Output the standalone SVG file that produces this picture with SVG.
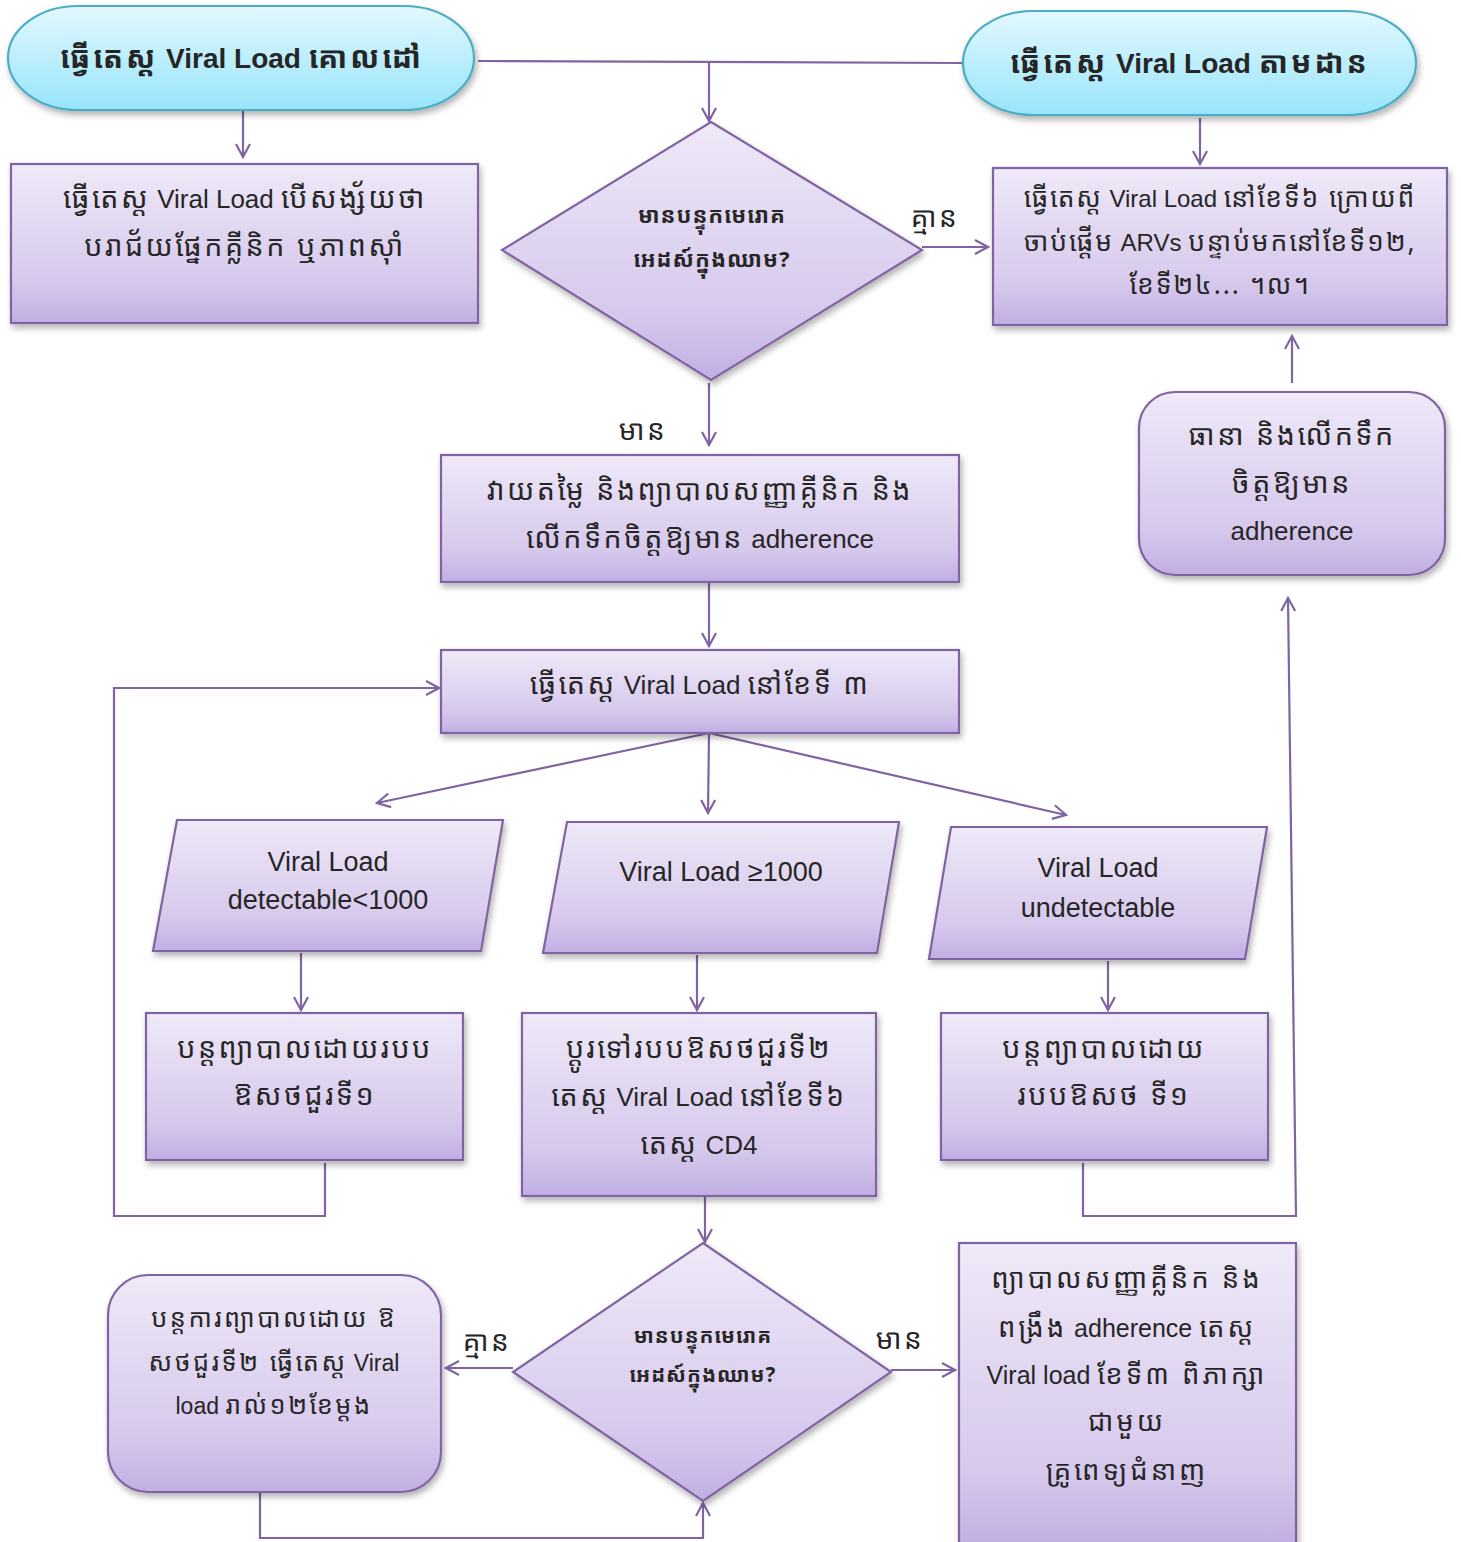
<svg xmlns="http://www.w3.org/2000/svg" width="1461" height="1542" viewBox="0 0 1461 1542">
<defs>
<linearGradient id="gp" x1="0" y1="0" x2="0" y2="1">
<stop offset="0" stop-color="#efe9f8"/>
<stop offset="0.75" stop-color="#d6c8ec"/>
<stop offset="1" stop-color="#c2aee3"/>
</linearGradient>
<linearGradient id="gc" x1="0" y1="0" x2="0" y2="1">
<stop offset="0" stop-color="#e3f8fe"/>
<stop offset="1" stop-color="#98e5fb"/>
</linearGradient>
<filter id="sh" x="-10%" y="-10%" width="125%" height="130%">
<feDropShadow dx="2" dy="4" stdDeviation="3" flood-color="#000" flood-opacity="0.3"/>
</filter>
<marker id="ar" viewBox="0 0 16 16" refX="14" refY="8" markerWidth="16" markerHeight="16" markerUnits="userSpaceOnUse" orient="auto">
<path d="M1,1 L14,8 L1,15" fill="none" stroke="#8064a2" stroke-width="2.2"/>
</marker>
</defs>
<style>
.p{fill:url(#gp);stroke:#8064a2;stroke-width:2.2;filter:url(#sh)}
.c{fill:url(#gc);stroke:#4bacc6;stroke-width:2.2;filter:url(#sh)}
.l{fill:none;stroke:#8064a2;stroke-width:2.2}
.a{marker-end:url(#ar)}
text{font-family:"Noto Sans Khmer","Khmer OS","Liberation Sans",sans-serif;fill:#262626;text-anchor:middle;letter-spacing:2.5px}
.b{font-weight:bold}
.v{font-family:"Liberation Sans",Arial,sans-serif;letter-spacing:0}
.s{letter-spacing:1px}
</style>

<g id="connectors">
<path class="l" d="M478,61 L963,63"/>
<path class="l a" d="M709,61 L709,121"/>
<path class="l a" d="M243,110 L243,157"/>
<path class="l a" d="M1200,118 L1200,164"/>
<path class="l a" d="M922,247 L988,247"/>
<path class="l a" d="M709,383 L709,445"/>
<path class="l a" d="M709,582 L709,646"/>
<path class="l a" d="M709,733 L377,803"/>
<path class="l a" d="M709,733 L708,813"/>
<path class="l a" d="M709,733 L1066,815"/>
<path class="l a" d="M301,953 L301,1010"/>
<path class="l a" d="M697,955 L697,1010"/>
<path class="l a" d="M1108,961 L1108,1010"/>
<path class="l a" d="M325,1163 L325,1216 L114,1216 L114,688 L439,688"/>
<path class="l a" d="M1083,1163 L1083,1216 L1296,1216 L1288,598"/>
<path class="l a" d="M1292,383 L1292,336"/>
<path class="l a" d="M705,1196 L705,1242"/>
<path class="l a" d="M891,1370 L955,1370"/>
<path class="l a" d="M513,1368 L446,1368"/>
<path class="l a" d="M260,1490 L260,1538 L703,1538 L703,1503"/>
</g>

<g id="labels">
<text x="935" y="227" font-size="28">គ្មាន</text>
<text x="643" y="440" font-size="28">មាន</text>
<text x="487" y="1351" font-size="28">គ្មាន</text>
<text x="900" y="1349" font-size="28">មាន</text>
</g>

<g id="start-target">
<rect class="c" x="8" y="6" width="466" height="104" rx="70" ry="52"/>
<text class="b" x="242" y="68" font-size="30" style="letter-spacing:3px">ធ្វើតេស្ត<tspan class="v" font-size="28"> Viral Load </tspan>គោលដៅ</text>
</g>

<g id="start-monitor">
<rect class="c" x="963" y="11" width="453" height="104" rx="70" ry="52"/>
<text class="b" x="1190" y="73" font-size="30" style="letter-spacing:3px">ធ្វើតេស្ត<tspan class="v" font-size="28"> Viral Load </tspan>តាមដាន</text>
</g>

<g id="box-suspect">
<rect class="p" x="11" y="164" width="467" height="159"/>
<text x="245" y="208" font-size="28.6">ធ្វើតេស្ត<tspan class="v" font-size="26"> Viral Load </tspan>បើសង្ស័យថា</text>
<text x="245" y="256" font-size="28.6">បរាជ័យផ្នែកគ្លីនិក ឬភាពស៊ាំ</text>
</g>

<g id="box-routine">
<rect class="p" x="993" y="168" width="454" height="157"/>
<text x="1220" y="207" font-size="26.4" style="letter-spacing:1.9px">ធ្វើតេស្ត<tspan class="v" font-size="24"> Viral Load </tspan>នៅខែទី៦ ក្រោយពី</text>
<text x="1220" y="251" font-size="26.4" style="letter-spacing:1.9px">ចាប់ផ្តើម<tspan class="v" font-size="24"> ARVs </tspan>បន្ទាប់មកនៅខែទី១២,</text>
<text x="1220" y="294" font-size="26.4" style="letter-spacing:1.9px">ខែទី២៤... ។ល។</text>
</g>

<g id="decision-1">
<path class="p" d="M711,122 L922,250 L711,380 L502,250 Z"/>
<text class="b s" x="712" y="223" font-size="22">មានបន្ទុកមេរោគ</text>
<text class="b s" x="712" y="267" font-size="22">អេដស៍ក្នុងឈាម?</text>
</g>

<g id="box-assess">
<rect class="p" x="441" y="455" width="518" height="127"/>
<text x="700" y="500" font-size="28.6">វាយតម្លៃ និងព្យាបាលសញ្ញាគ្លីនិក និង</text>
<text x="700" y="548" font-size="28.6">លើកទឹកចិត្តឱ្យមាន<tspan class="v" font-size="26"> adherence</tspan></text>
</g>

<g id="box-test3">
<rect class="p" x="441" y="650" width="518" height="83"/>
<text x="700" y="694" font-size="28.6">ធ្វើតេស្ត<tspan class="v" font-size="26"> Viral Load </tspan>នៅខែទី ៣</text>
</g>

<g id="box-ensure">
<rect class="p" x="1139" y="392" width="306" height="183" rx="36" ry="36"/>
<text x="1292" y="445" font-size="28.6">ធានា និងលើកទឹក</text>
<text x="1292" y="493" font-size="28.6">ចិត្តឱ្យមាន</text>
<text class="v" x="1292" y="540" font-size="26">adherence</text>
</g>

<g id="io-detectable">
<path class="p" d="M177,820 L503,820 L481,951 L153,951 Z"/>
<text class="v" x="328" y="871" font-size="27">Viral Load</text>
<text class="v" x="328" y="909" font-size="27">detectable&lt;1000</text>
</g>

<g id="io-high">
<path class="p" d="M567,822 L899,822 L877,953 L543,953 Z"/>
<text class="v" x="721" y="881" font-size="27">Viral Load ≥1000</text>
</g>

<g id="io-undetectable">
<path class="p" d="M951,827 L1267,827 L1245,959 L929,959 Z"/>
<text class="v" x="1098" y="877" font-size="27">Viral Load</text>
<text class="v" x="1098" y="917" font-size="27">undetectable</text>
</g>

<g id="box-continue1">
<rect class="p" x="146" y="1013" width="317" height="147"/>
<text x="305" y="1058" font-size="28.6">បន្តព្យាបាលដោយរបប</text>
<text x="305" y="1105" font-size="28.6">ឱសថជួរទី១</text>
</g>

<g id="box-switch">
<rect class="p" x="522" y="1013" width="354" height="183"/>
<text x="699" y="1058" font-size="28.6">ប្តូរទៅរបបឱសថជួរទី២</text>
<text x="699" y="1106" font-size="28.6">តេស្ត<tspan class="v" font-size="26"> Viral Load </tspan>នៅខែទី៦</text>
<text x="699" y="1154" font-size="28.6">តេស្ត<tspan class="v" font-size="26"> CD4</tspan></text>
</g>

<g id="box-continue1b">
<rect class="p" x="941" y="1013" width="327" height="147"/>
<text x="1104" y="1058" font-size="28.6">បន្តព្យាបាលដោយ</text>
<text x="1104" y="1105" font-size="28.6">របបឱសថ ទី១</text>
</g>

<g id="decision-2">
<path class="p" d="M703,1243 L891,1372 L703,1501 L513,1372 Z"/>
<text class="b s" x="703" y="1343" font-size="20.5">មានបន្ទុកមេរោគ</text>
<text class="b s" x="703" y="1382" font-size="20.5">អេដស៍ក្នុងឈាម?</text>
</g>

<g id="box-continue2">
<rect class="p" x="108" y="1275" width="333" height="217" rx="40" ry="40"/>
<text x="274" y="1327" font-size="25.3">បន្តការព្យាបាលដោយ ឱ</text>
<text x="274" y="1371" font-size="25.3">សថជួរទី២ ធ្វើតេស្ត<tspan class="v" font-size="23"> Viral</tspan></text>
<text x="274" y="1414" font-size="25.3"><tspan class="v" font-size="23">load </tspan>រាល់១២ខែម្តង</text>
</g>

<g id="box-expert">
<rect class="p" x="959" y="1243" width="337" height="305"/>
<text x="1127" y="1288" font-size="27.5" style="letter-spacing:3px">ព្យាបាលសញ្ញាគ្លីនិក និង</text>
<text x="1127" y="1337" font-size="27.5" style="letter-spacing:3px">ពង្រឹង<tspan class="v" font-size="25"> adherence </tspan>តេស្ត</text>
<text x="1127" y="1384" font-size="27.5" style="letter-spacing:3px"><tspan class="v" font-size="25">Viral load </tspan>ខែទី៣ ពិភាក្សា</text>
<text x="1127" y="1431" font-size="27.5" style="letter-spacing:3px">ជាមួយ</text>
<text x="1127" y="1480" font-size="27.5" style="letter-spacing:3px">គ្រូពេទ្យជំនាញ</text>
</g>
</svg>
